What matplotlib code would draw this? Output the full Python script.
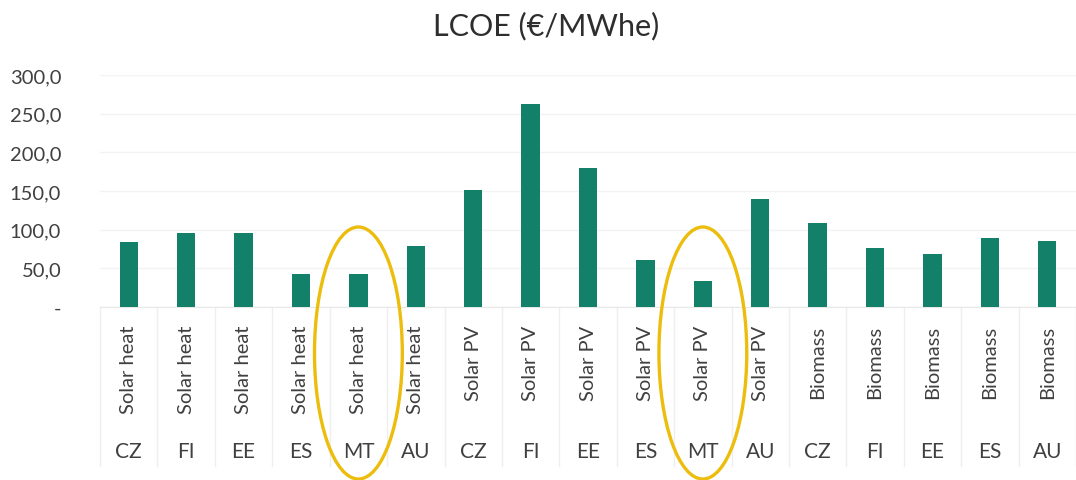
import matplotlib.pyplot as plt
import matplotlib.transforms as mtransforms
from matplotlib.patches import Ellipse
from matplotlib.ticker import FuncFormatter

plt.rcParams['font.family'] = ['Lato', 'DejaVu Sans']

# LCOE per technology and country
technologies = ["Solar heat"] * 6 + ["Solar PV"] * 6 + ["Biomass"] * 5
countries = ["CZ", "FI", "EE", "ES", "MT", "AU",
             "CZ", "FI", "EE", "ES", "MT", "AU",
             "CZ", "FI", "EE", "ES", "AU"]
lcoe = [84, 96, 96, 42, 42, 79,
        151, 263, 180, 60, 33, 139,
        109, 76, 68, 89, 85]
highlighted = ["MT"]

bar_color = "#13806a"
text_color = "#404040"
ring_color = "#ecbd0c"

fig = plt.figure(figsize=(10.76, 4.81), dpi=100)
ax = fig.add_axes([0.093, 0.36, 0.907, 0.482])

x = list(range(len(lcoe)))
ax.bar(x, lcoe, width=0.32, color=bar_color, zorder=3)

ax.set_xlim(-0.5, len(lcoe) - 0.5)
ax.set_ylim(0, 300)
ax.set_yticks(range(0, 301, 50))
ax.yaxis.set_major_formatter(FuncFormatter(
    lambda v, _: "-" if v == 0 else f"{v:.1f}".replace(".", ",")))
ax.grid(axis="y", color="#f3f3f3", linewidth=1.0, zorder=0)
ax.tick_params(axis="y", length=0, pad=28, labelsize=14.5, labelcolor=text_color)

for side in ["top", "right", "left"]:
    ax.spines[side].set_visible(False)
ax.spines["bottom"].set_color("#e8e8e8")

# two-level category axis: technology (rotated), then country
ax.set_xticks(x, technologies, rotation=90)
ax.tick_params(axis="x", length=0, pad=13, labelsize=14.5, labelcolor=text_color)
for i, c in enumerate(countries):
    ax.annotate(c, xy=(i, 0), xycoords=("data", "axes fraction"),
                xytext=(0, -104), textcoords="offset points",
                ha="center", va="center", fontsize=15, color=text_color)

sep_trans = mtransforms.blended_transform_factory(ax.transData, ax.transAxes)
for b in range(len(lcoe) + 1):
    ax.plot([b - 0.5, b - 0.5], [0, -0.685], transform=sep_trans,
            color="#efefef", linewidth=1.0, clip_on=False)

# rings around the MT entries
ring_trans = mtransforms.blended_transform_factory(ax.transData, fig.transFigure)
for i, c in enumerate(countries):
    if c in highlighted:
        ax.add_patch(Ellipse((i, 0.264), width=1.53, height=0.524,
                             transform=ring_trans, fill=False,
                             edgecolor=ring_color, linewidth=2.4,
                             clip_on=False, zorder=5))

fig.text(0.508, 0.945, "LCOE (€/MWhe)", ha="center", va="center",
         fontsize=22, color="#2e2e2e")

fig.savefig("out.png", dpi=100)
